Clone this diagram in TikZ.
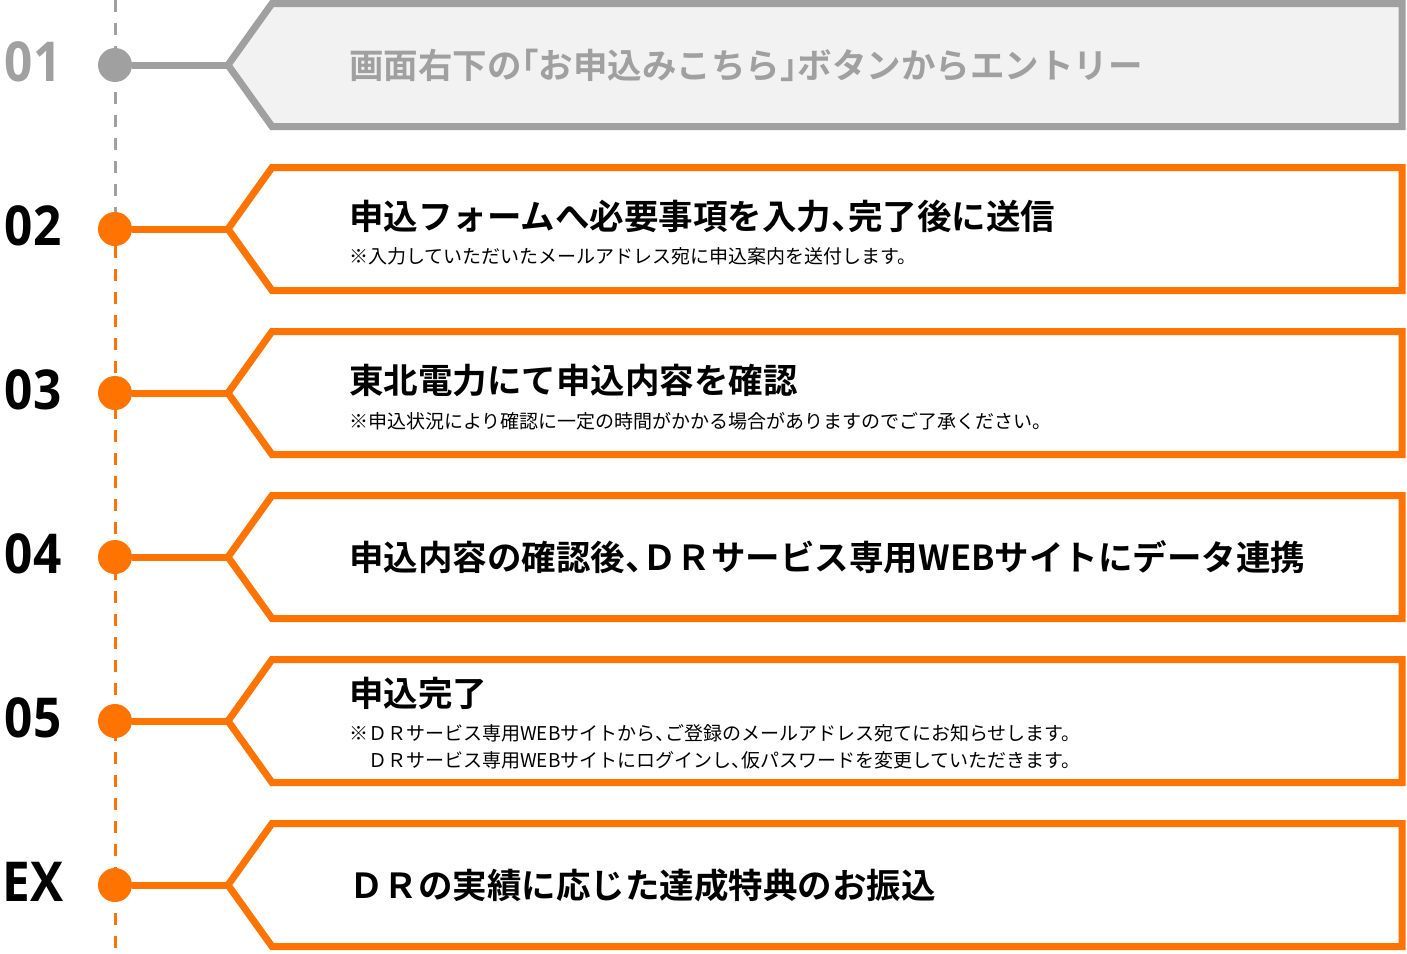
\documentclass[tikz,border=0pt]{standalone}
\usepackage{fontspec}
\newfontfamily\jpfont{Noto Sans CJK JP}[BoldFont={Noto Sans CJK JP Bold},RawFeature=+halt]
\newfontfamily\numfont{Open Sans}[FakeStretch=0.9]
\usetikzlibrary{positioning}
\definecolor{drorange}{RGB}{255,115,0}
\definecolor{stepgray}{RGB}{160,160,160}
\definecolor{stepfill}{RGB}{242,242,242}

\begin{document}
\begin{tikzpicture}[x=1pt,y=-1pt,
    dot/.style={circle,fill,minimum size=34pt,inner sep=0pt},
    link/.style={line width=7pt},
    rail/.style={line width=3pt,dash pattern=on 12pt off 11pt},
    flow/.style={line width=7pt},
    num/.style={inner sep=0pt,font=\numfont\bfseries\fontsize{55}{55}\selectfont},
    ttl/.style={anchor=west,inner sep=0pt,font=\jpfont\bfseries\fontsize{34.5}{40}\selectfont},
    note/.style={anchor=west,inner sep=0pt,font=\jpfont\fontsize{19}{27}\selectfont}]
    \useasboundingbox (0,0) rectangle (1407,953);

    % Timeline
    \coordinate (top) at (115,0);
    \coordinate (bot) at (115,948);
    \node[dot,stepgray] (d1) at (115,65) {};
    \node[dot,drorange] (d2) at (115,229) {};
    \node[dot,drorange] (d3) at (115,393) {};
    \node[dot,drorange] (d4) at (115,557) {};
    \node[dot,drorange] (d5) at (115,721) {};
    \node[dot,drorange] (d6) at (115,885) {};
    \draw[rail,stepgray] (top) -- (d2);
    \draw[rail,drorange] (d2) -- (bot);

    % Step numbers
    \node[num,stepgray] (n1) at (33,62) {01};
    \node[num] (n2) at (33,226) {02};
    \node[num] (n3) at (33,390) {03};
    \node[num] (n4) at (33,554) {04};
    \node[num] (n5) at (33,718) {05};
    \node[num] (n6) at (33,882) {EX};

    % Boxes
    \coordinate (t1) at (228,65);
    \coordinate (t2) at (228,229);
    \coordinate (t3) at (228,393);
    \coordinate (t4) at (228,557);
    \coordinate (t5) at (228,721);
    \coordinate (t6) at (228,885);
    \draw[flow,stepgray,fill=stepfill] (t1) -- ++(44,-61.5) -- ++(1130,0) -- ++(0,123) -- ++(-1130,0) -- cycle;
    \draw[flow,drorange,fill=white] (t2) -- ++(44,-61.5) -- ++(1130,0) -- ++(0,123) -- ++(-1130,0) -- cycle;
    \draw[flow,drorange,fill=white] (t3) -- ++(44,-61.5) -- ++(1130,0) -- ++(0,123) -- ++(-1130,0) -- cycle;
    \draw[flow,drorange,fill=white] (t4) -- ++(44,-61.5) -- ++(1130,0) -- ++(0,123) -- ++(-1130,0) -- cycle;
    \draw[flow,drorange,fill=white] (t5) -- ++(44,-61.5) -- ++(1130,0) -- ++(0,123) -- ++(-1130,0) -- cycle;
    \draw[flow,drorange,fill=white] (t6) -- ++(44,-61.5) -- ++(1130,0) -- ++(0,123) -- ++(-1130,0) -- cycle;

    % Links
    \draw[link,stepgray] (d1) -- (t1);
    \draw[link,drorange] (d2) -- (t2);
    \draw[link,drorange] (d3) -- (t3);
    \draw[link,drorange] (d4) -- (t4);
    \draw[link,drorange] (d5) -- (t5);
    \draw[link,drorange] (d6) -- (t6);

    % Texts
    \node[ttl,stepgray] (s1) at (349,65) {画面右下の「お申込みこちら」ボタンからエントリー};
    \node[ttl] (s2) at (349,216) {申込フォームへ必要事項を入力、完了後に送信};
    \node[note] (s2a) at (349,256) {※入力していただいたメールアドレス宛に申込案内を送付します。};
    \node[ttl] (s3) at (349,380) {東北電力にて申込内容を確認};
    \node[note] (s3a) at (349,421) {※申込状況により確認に一定の時間がかかる場合がありますのでご了承ください。};
    \node[ttl] (s4) at (349,557) {申込内容の確認後、ＤＲサービス専用WEBサイトにデータ連携};
    \node[ttl] (s5) at (349,693) {申込完了};
    \node[note] (s5a) at (349,733) {※ＤＲサービス専用WEBサイトから、ご登録のメールアドレス宛てにお知らせします。};
    \node[note] (s5b) at (349,760) {　ＤＲサービス専用WEBサイトにログインし、仮パスワードを変更していただきます。};
    \node[ttl] (s6) at (349,885) {ＤＲの実績に応じた達成特典のお振込};
\end{tikzpicture}
\end{document}
